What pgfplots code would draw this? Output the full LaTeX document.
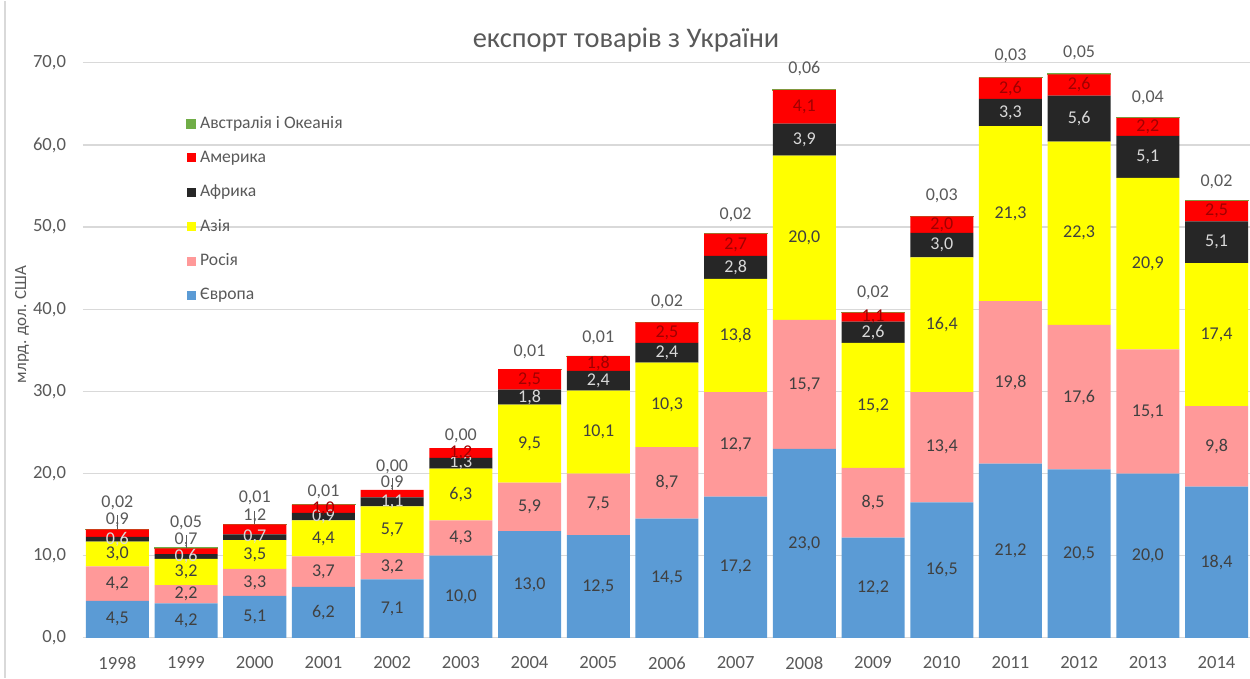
\documentclass[border=0pt]{standalone}
\usepackage{fontspec}
\setmainfont{Carlito}
\usepackage{pgfplots}
\usepackage{pgfplotstable}
\pgfplotsset{compat=1.18}
\definecolor{cEu}{HTML}{5B9BD5}
\definecolor{cRu}{HTML}{FF9999}
\definecolor{cAs}{HTML}{FFFF00}
\definecolor{cAf}{HTML}{262626}
\definecolor{cAm}{HTML}{FF0000}
\definecolor{cAu}{HTML}{70AD47}
\definecolor{txt}{HTML}{595959}
\definecolor{lab}{HTML}{404040}
\definecolor{labaf}{HTML}{D9D9D9}
\definecolor{labam}{HTML}{A00000}
\definecolor{gridc}{HTML}{D9D9D9}
\pgfplotstableread{
x year eu ru as af am au amup auup
0 1998 4.5 4.2 3.0 0.6 0.9 0.02 4.8 13.3
1 1999 4.2 2.2 3.2 0.6 0.7 0.05 4.3 12.5
2 2000 5.1 3.3 3.5 0.7 1.2 0.01 4.4 13.5
3 2001 6.2 3.7 4.4 0.9 1.0 0.01 0 6.5
4 2002 7.1 3.2 5.7 1.1 0.9 0.00 3.7 11.8
5 2003 10.0 4.3 6.3 1.3 1.2 0.00 0 6.0
6 2004 13.0 5.9 9.5 1.8 2.5 0.01 0 8.5
7 2005 12.5 7.5 10.1 2.4 1.8 0.01 0 9.0
8 2006 14.5 8.7 10.3 2.4 2.5 0.02 0 10.0
9 2007 17.2 12.7 13.8 2.8 2.7 0.02 0 9.5
10 2008 23.0 15.7 20.0 3.9 4.1 0.06 0 10.5
11 2009 12.2 8.5 15.2 2.6 1.1 0.02 0 10.0
12 2010 16.5 13.4 16.4 3.0 2.0 0.03 0 10.0
13 2011 21.2 19.8 21.3 3.3 2.6 0.03 0 11.0
14 2012 20.5 17.6 22.3 5.6 2.6 0.05 0 10.5
15 2013 20.0 15.1 20.9 5.1 2.2 0.04 0 10.0
16 2014 18.4 9.8 17.4 5.1 2.5 0.02 0 9.3
}\data
\pgfplotsset{
  common/.style={x=34.35pt, y=4.107pt, xmin=-0.5, xmax=16.5, ymin=0, ymax=70, clip=false},
  seglab/.style={only marks, mark=none, point meta=explicit, unbounded coords=discard,
    nodes near coords={\pgfmathprintnumber[fixed,fixed zerofill,precision=#1,use comma,assume math mode=true]{\pgfplotspointmeta}},
    nodes near coords style={anchor=center, font=\fontsize{9}{10}\selectfont}},
}
\begin{document}
\begin{tikzpicture}
\begin{axis}[name=ax, common,
  ybar stacked, bar width=31.5pt,
  xtick={0,...,16},
  xticklabels={1998,1999,2000,2001,2002,2003,2004,2005,2006,2007,2008,2009,2010,2011,2012,2013,2014},
  ytick={0,10,...,70},
  yticklabel style={/pgf/number format/fixed, /pgf/number format/fixed zerofill, /pgf/number format/precision=1, /pgf/number format/use comma, /pgf/number format/assume math mode=true},
  ymajorgrids, grid style={gridc, line width=0.6pt},
  axis line style={draw=none},
  major tick length=0pt,
  tick label style={text=txt, font=\fontsize{9.3}{10}\selectfont},
  xticklabel style={yshift=-6pt},
  yticklabel style={xshift=-5pt},
  ylabel={млрд. дол. США},
  ylabel style={at={([xshift=-30.5pt]rel axis cs:0,0.545)}, rotate=0, anchor=center, text=txt, font=\fontsize{8.5}{10}\selectfont},
  title={експорт товарів з України},
  title style={at={(rel axis cs:0.465,1)}, yshift=5.5pt, anchor=center, text=txt, font=\fontsize{14.2}{16}\selectfont},
  legend style={at={(rel axis cs:0.083,0.922)}, anchor=north west, draw=none, fill=none,
    font=\fontsize{8.8}{10}\selectfont, nodes={text=txt}, row sep=5.8pt, cells={anchor=west}},
  reverse legend,
  legend image code/.code={\fill[#1] (0pt,-2.25pt) rectangle (4.5pt,2.25pt);},
]
\addplot[fill=cEu, draw=none] table[x=x, y=eu] {\data};
\addplot[fill=cRu, draw=none] table[x=x, y=ru] {\data};
\addplot[fill=cAs, draw=none] table[x=x, y=as] {\data};
\addplot[fill=cAf, draw=none] table[x=x, y=af] {\data};
\addplot[fill=cAm, draw=none] table[x=x, y=am] {\data};
\addplot[fill=cAu, draw=cAu, line width=0.4pt] table[x=x, y=au] {\data};
\legend{Європа, Росія, Азія, Африка, Америка, Австралія і Океанія}
\end{axis}
\begin{axis}[common, at={(ax.south west)}, anchor=south west, hide axis]
\addplot[draw=none, mark=none, unbounded coords=discard,
  error bars/.cd, y dir=plus, y explicit, error mark=none, error bar style={txt, line width=0.4pt}]
  table[x=x, y expr={\thisrow{amup}>0 ? \thisrow{eu}+\thisrow{ru}+\thisrow{as}+\thisrow{af}+\thisrow{am} : nan}, y error expr={(\thisrow{amup}+2.5)/4.107}] {\data};
\addplot[seglab=1, nodes near coords style={text=lab}] table[x=x, y expr=\thisrow{eu}/2, meta=eu] {\data};
\addplot[seglab=1, nodes near coords style={text=lab}] table[x=x, y expr=\thisrow{eu}+\thisrow{ru}/2, meta=ru] {\data};
\addplot[seglab=1, nodes near coords style={text=lab}] table[x=x, y expr=\thisrow{eu}+\thisrow{ru}+\thisrow{as}/2, meta=as] {\data};
\addplot[seglab=1, nodes near coords style={text=labaf}] table[x=x, y expr=\thisrow{eu}+\thisrow{ru}+\thisrow{as}+\thisrow{af}/2, meta=af] {\data};
\addplot[seglab=1, nodes near coords style={text=labam}] table[x=x, y expr={\thisrow{amup}>0 ? nan : \thisrow{eu}+\thisrow{ru}+\thisrow{as}+\thisrow{af}+\thisrow{am}/2}, meta=am] {\data};
\addplot[seglab=1, nodes near coords style={text=txt}] table[x=x, y expr={\thisrow{amup}>0 ? \thisrow{eu}+\thisrow{ru}+\thisrow{as}+\thisrow{af}+\thisrow{am}+\thisrow{amup}/4.107 : nan}, meta=am] {\data};
\addplot[seglab=2, nodes near coords style={text=txt}] table[x=x, y expr=\thisrow{eu}+\thisrow{ru}+\thisrow{as}+\thisrow{af}+\thisrow{am}+\thisrow{au}+\thisrow{auup}/4.107, meta=au] {\data};
\end{axis}
\pgfresetboundingbox
\path (ax.south west) ++(-41.5pt,-20pt) rectangle ++(625pt,338.5pt);
\draw[gridc, line width=0.8pt] (ax.south west) ++(-39pt,-20pt) -- ++(0,338.5pt);
\end{tikzpicture}
\end{document}
